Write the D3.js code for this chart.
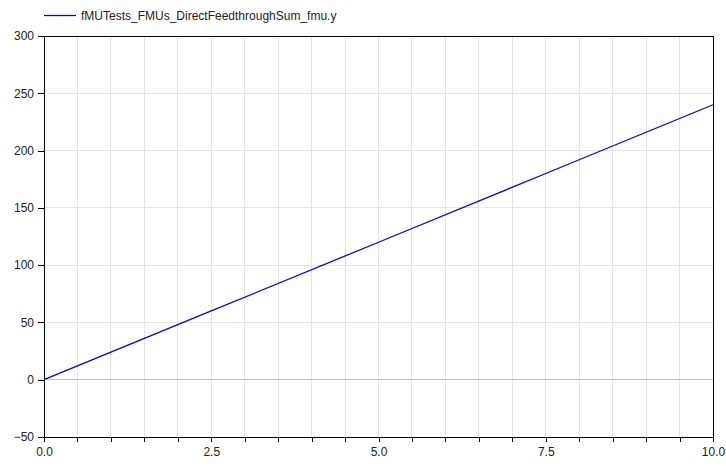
<!DOCTYPE html>
<html>
<head>
<meta charset="utf-8">
<script src="https://cdn.jsdelivr.net/npm/d3@7"></script>
<style>
  body { margin: 0; background: #fff; }
  svg { display: block; font-family: "Liberation Sans", Arial, sans-serif; }
</style>
</head>
<body>
<div id="chart"></div>
<script>
// series
const times = [0, 2.5, 5, 7.5, 10];
const values = [0, 60, 120, 180, 240];
const seriesName = "fMUTests_FMUs_DirectFeedthroughSum_fmu.y";
const xTickLabels = [0, 2.5, 5, 7.5, 10];
const yTickLabels = [-50, 0, 50, 100, 150, 200, 250, 300];

const W = 726, H = 466;
const m = { top: 36, right: 13, bottom: 29, left: 44 };

const svg = d3.select("#chart").append("svg")
  .attr("width", W).attr("height", H);

const x = d3.scaleLinear().domain([0, 10]).range([m.left, W - m.right]);
const y = d3.scaleLinear().domain([-50, 300]).range([H - m.bottom, m.top]);

const minorX = d3.range(0, 10.001, 0.5);

// grid
svg.append("g").selectAll("line")
  .data(minorX)
  .join("line")
  .attr("x1", d => x(d)).attr("x2", d => x(d))
  .attr("y1", y(-50)).attr("y2", y(300))
  .attr("stroke", "#e4e4e4").attr("stroke-width", 1)
  .attr("shape-rendering", "crispEdges");

svg.append("g").selectAll("line")
  .data(yTickLabels)
  .join("line")
  .attr("x1", x(0)).attr("x2", x(10))
  .attr("y1", d => y(d)).attr("y2", d => y(d))
  .attr("stroke", d => d === 0 ? "#c4c4c4" : "#e4e4e4").attr("stroke-width", 1)
  .attr("shape-rendering", "crispEdges");

// frame
svg.append("rect")
  .attr("x", x(0)).attr("y", y(300))
  .attr("width", x(10) - x(0)).attr("height", y(-50) - y(300))
  .attr("fill", "none").attr("stroke", "#000").attr("stroke-width", 1)
  .attr("shape-rendering", "crispEdges");

// axes
const xAxis = d3.axisBottom(x)
  .tickValues(minorX)
  .tickSize(5)
  .tickFormat(d => xTickLabels.includes(d) ? d.toFixed(1) : "");
svg.append("g")
  .attr("transform", `translate(0,${y(-50)})`)
  .call(xAxis)
  .call(g => g.select(".domain").remove())
  .call(g => g.selectAll("line").attr("stroke", "#000").attr("shape-rendering", "crispEdges"))
  .call(g => g.selectAll("text").attr("font-size", 12).attr("fill", "#222")
    .attr("font-family", "Liberation Sans, Arial, sans-serif").attr("dy", "0.9em"));

const yAxis = d3.axisLeft(y)
  .tickValues(yTickLabels)
  .tickSize(6)
  .tickFormat(d3.format("d"));
svg.append("g")
  .attr("transform", `translate(${x(0)},0)`)
  .call(yAxis)
  .call(g => g.select(".domain").remove())
  .call(g => g.selectAll("line").attr("stroke", "#000").attr("shape-rendering", "crispEdges"))
  .call(g => g.selectAll("text").attr("font-size", 12).attr("fill", "#222")
    .attr("font-family", "Liberation Sans, Arial, sans-serif").attr("x", -10));

// series
const line = d3.line()
  .x((d, i) => x(times[i]))
  .y(d => y(d));
svg.append("path")
  .datum(values)
  .attr("d", line)
  .attr("fill", "none")
  .attr("stroke", "#0000ff")
  .attr("stroke-width", 1.3);

// legend
svg.append("line")
  .attr("x1", 44).attr("x2", 76).attr("y1", 15.5).attr("y2", 15.5)
  .attr("stroke", "#0000ff").attr("stroke-width", 1.3);
svg.append("text")
  .attr("x", 81).attr("y", 19.5)
  .attr("font-size", 12).attr("fill", "#222")
  .text(seriesName);
</script>
</body>
</html>
